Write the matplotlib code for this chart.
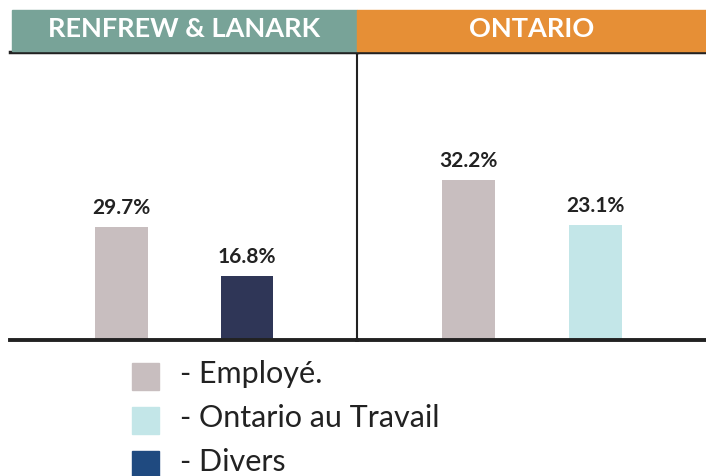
import matplotlib.pyplot as plt
from matplotlib.patches import Rectangle

regions = ['RENFREW & LANARK', 'ONTARIO']
header_colors = ['#78a398', '#e68f36']
left_vals = [29.7, 16.8]
right_vals = [32.2, 23.1]
left_colors = ['#c8bebf', '#2f3657']
right_colors = ['#c8bebf', '#c3e6e8']
legend_labels = ['- Employé.', '- Ontario au Travail', '- Divers']
legend_colors = ['#c8bebf', '#c3e6e8', '#1f4a80']

W, H = 706, 476
fig = plt.figure(figsize=(7.06, 4.76), dpi=100)


def fx(px):
    return px / W


def fy(py):
    return 1 - py / H


# header bands
edges = [12, 357, 706]
for i, name in enumerate(regions):
    fig.patches.append(Rectangle((fx(edges[i]), fy(51)), fx(edges[i + 1] - edges[i]), 41 / H,
                                 transform=fig.transFigure, color=header_colors[i], zorder=0))
    fig.text(fx((edges[i] + edges[i + 1]) / 2), fy(29), name, color='white', fontsize=19.5,
             fontweight='bold', family='Lato', ha='center', va='center')

panels = [(left_vals, left_colors, (0, 76)), (right_vals, right_colors, (0, 58))]
for i, (vals, cols, ylim) in enumerate(panels):
    ax = fig.add_axes([fx(edges[i] if i else 10), fy(340), fx(edges[i + 1] - (edges[i] if i else 10)), 288 / H])
    x = range(len(vals))
    ax.bar(x, vals, width=0.42, color=cols)
    for xi, v in zip(x, vals):
        ax.text(xi, v + 2.4 * ylim[1] / 76, f'{v}%', ha='center', va='bottom', fontsize=15,
                fontweight='bold', family='Lato', color='#222222')
    ax.set_xlim(-0.885, 1.875)
    ax.set_ylim(*ylim)
    ax.set_xticks([])
    ax.set_yticks([])
    for s in ['right', 'left']:
        ax.spines[s].set_visible(False)
    ax.spines['top'].set_linewidth(2.5)
    ax.spines['bottom'].set_linewidth(2.8)
    ax.spines['top'].set_color('#222222')
    ax.spines['bottom'].set_color('#222222')
    if i == 1:
        ax.spines['left'].set_visible(True)
        ax.spines['left'].set_linewidth(1.5)
        ax.spines['left'].set_color('#222222')
    ax.patch.set_alpha(0)

# legend
for k, (lab, col) in enumerate(zip(legend_labels, legend_colors)):
    y0 = 363 + k * 44
    fig.patches.append(Rectangle((fx(132), fy(y0 + 27)), fx(27), 27 / H,
                                 transform=fig.transFigure, color=col))
    fig.text(fx(180), fy(y0 + 11), lab, fontsize=22, family='Lato', color='#222222',
             ha='left', va='center')

fig.savefig('out.png', dpi=100)
